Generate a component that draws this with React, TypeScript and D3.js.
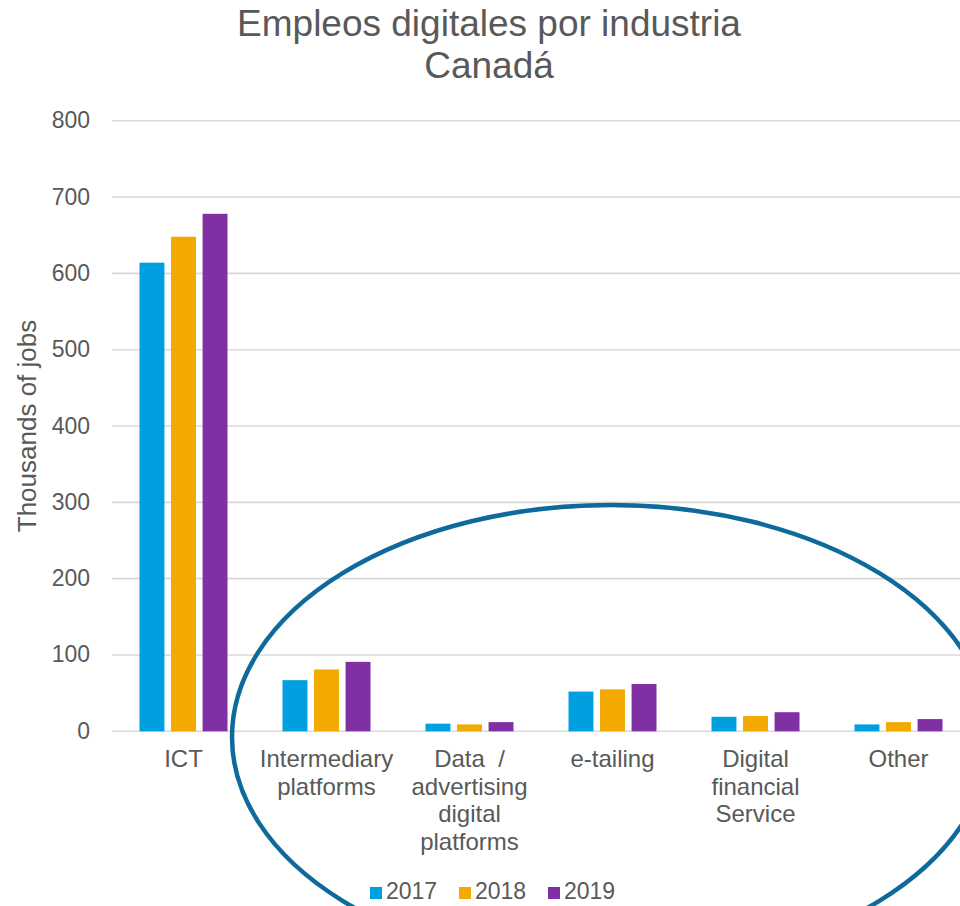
import React from "react";
import * as d3 from "d3";

const categories: string[][] = [
  ["ICT"],
  ["Intermediary", "platforms"],
  ["Data  /", "advertising", "digital", "platforms"],
  ["e-tailing"],
  ["Digital", "financial", "Service"],
  ["Other"],
];
const categoryKeys = ["ICT", "Intermediary", "Data", "etailing", "Digital", "Other"];
const years = ["2017", "2018", "2019"];
const values2017 = [614, 67, 10, 52, 19, 9];
const values2018 = [648, 81, 9, 55, 20, 12];
const values2019 = [678, 91, 12, 62, 25, 16];
const yTicks = [0, 100, 200, 300, 400, 500, 600, 700, 800];
const colors = ["#009FDF", "#F2A900", "#7F30A3"];
const titleLines = ["Empleos digitales por industria", "Canadá"];
const yTitle = "Thousands of jobs";

const FONT = "'Liberation Sans', Arial, Helvetica, sans-serif";
const TEXT = "#595959";

export default function App() {
  const series = [values2017, values2018, values2019];
  const x0 = d3.scaleBand<string>().domain(categoryKeys).range([112, 970]).paddingInner(0).paddingOuter(0);
  const x1 = d3.scaleBand<string>().domain(years).range([0, 88]).paddingInner(0.21);
  const y = d3.scaleLinear().domain([0, 800]).range([731.3, 120.7]);
  const groupOffset = (x0.bandwidth() - 88) / 2;

  return (
    <svg
      width={960}
      height={906}
      style={{ position: "absolute", left: 0, top: 0, display: "block", background: "#fff" }}
      fontFamily={FONT}
    >
      {/* title */}
      {titleLines.map((t, i) => (
        <text key={t} x={489} y={36 + i * 42} textAnchor="middle" fontSize={37} fill={TEXT}>
          {t}
        </text>
      ))}
      {/* gridlines */}
      {yTicks.map((t) => (
        <line key={"g" + t} x1={112} x2={960} y1={y(t)} y2={y(t)} stroke="#d9d9d9" strokeWidth={1.6} />
      ))}
      {/* tick labels */}
      {yTicks.map((t) => (
        <text key={"t" + t} x={90} y={y(t) + 7.5} textAnchor="end" fontSize={23} fill={TEXT}>
          {t}
        </text>
      ))}
      {/* y title */}
      <text
        transform={`translate(36,426) rotate(-90)`}
        textAnchor="middle"
        fontSize={26}
        fill={TEXT}
      >
        {yTitle}
      </text>
      {/* bars */}
      {categoryKeys.map((c, ci) => (
        <g key={c} transform={`translate(${(x0(c) ?? 0) + groupOffset},0)`}>
          {years.map((yr, si) => (
            <rect
              key={yr}
              x={x1(yr)}
              y={y(series[si][ci])}
              width={x1.bandwidth()}
              height={y(0) - y(series[si][ci])}
              fill={colors[si]}
            />
          ))}
        </g>
      ))}
      {/* category labels */}
      {categoryKeys.map((c, ci) => (
        <text
          key={"c" + c}
          x={(x0(c) ?? 0) + x0.bandwidth() / 2}
          y={767}
          textAnchor="middle"
          fontSize={24}
          fill={TEXT}
          style={{ whiteSpace: "pre" }}
        >
          {categories[ci].map((line, li) => (
            <tspan key={li} x={(x0(c) ?? 0) + x0.bandwidth() / 2} dy={li === 0 ? 0 : 27.7}>
              {line}
            </tspan>
          ))}
        </text>
      ))}
      {/* legend */}
      {years.map((yr, i) => {
        const lx = 386 + i * 89;
        return (
          <g key={"l" + yr}>
            <rect x={lx - 16} y={887} width={12} height={12} fill={colors[i]} />
            <text x={lx} y={899} fontSize={23} fill={TEXT}>
              {yr}
            </text>
          </g>
        );
      })}
      {/* highlight ellipse */}
      <ellipse cx={611} cy={737} rx={379} ry={232} fill="none" stroke="#0F6A9C" strokeWidth={4.5} />
    </svg>
  );
}
